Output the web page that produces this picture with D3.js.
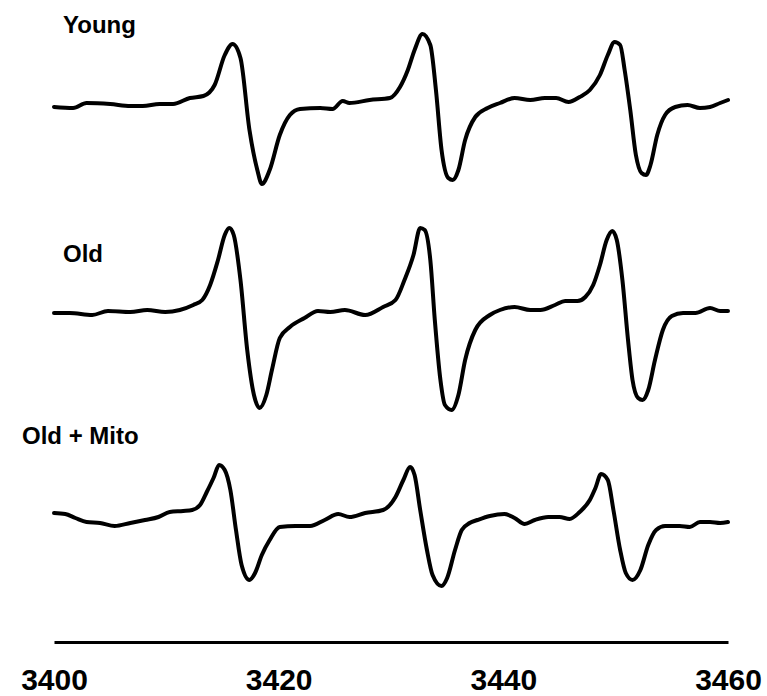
<!DOCTYPE html>
<meta charset="utf-8">
<script src="https://d3js.org/d3.v7.min.js"></script>
<style>
  body { margin: 0; background: #fff; }
</style>
<div id="my_dataviz"></div>
<script>

// magnetic field (G) and signal (a.u.)
var youngField = [3400.0,3401.7,3402.9,3405.0,3406.8,3407.9,3409.4,3410.6,3412.1,3413.3,3414.3,3415.2,3415.9,3416.6,3417.4,3418.1,3418.5,3419.2,3420.1,3421.0,3421.9,3423.7,3424.8,3425.7,3426.3,3428.1,3429.9,3430.8,3431.5,3432.1,3432.8,3433.5,3434.0,3434.5,3435.1,3435.5,3436.0,3436.6,3437.5,3438.6,3439.7,3441.0,3442.4,3443.7,3444.7,3445.8,3446.8,3447.7,3448.6,3449.3,3449.9,3450.4,3450.8,3451.3,3451.8,3452.3,3452.7,3453.1,3453.7,3454.4,3455.3,3456.4,3457.5,3458.4,3459.3,3460.0];
var youngSignal = [-2,-3,2,1,-1,-1,1,1,7,9,20,50,61,47,-25,-65,-79,-65,-30,-10,-4,-3,-4,4,2,5,7,18,35,55,71,60,15,-45,-73,-75,-65,-35,-12,-3,2,7,5,7,7,3,8,15,30,50,63,60,35,-5,-50,-68,-70,-60,-30,-10,-2,0,-3,-2,2,5];

var oldField = [3400.0,3401.4,3403.4,3404.8,3406.8,3408.3,3409.9,3411.2,3412.4,3413.2,3413.9,3414.6,3415.2,3415.6,3416.0,3416.6,3417.2,3417.8,3418.3,3418.9,3419.4,3420.1,3421.0,3422.3,3423.5,3424.6,3425.9,3427.7,3429.3,3430.4,3431.2,3432.0,3432.6,3433.0,3433.5,3433.9,3434.4,3434.8,3435.4,3436.0,3436.6,3437.5,3438.8,3439.7,3441.0,3442.4,3443.3,3444.6,3445.5,3446.6,3447.3,3448.0,3448.6,3449.2,3449.7,3450.1,3450.6,3451.1,3451.5,3452.0,3452.4,3452.9,3453.5,3454.2,3455.0,3456.0,3457.1,3458.4,3459.3,3460.0];
var oldSignal = [-1,-1,-3,1,0,2,0,2,7,12,27,52,77,84,77,32,-38,-83,-96,-83,-58,-26,-15,-6,1,0,2,-3,5,12,32,57,84,82,52,-8,-68,-93,-98,-83,-48,-18,-3,2,5,2,2,7,11,11,15,27,47,72,81,72,32,-28,-68,-86,-88,-78,-48,-18,-4,-1,-1,4,1,1];

var mitoField = [3400.0,3401.0,3401.9,3402.9,3404.1,3405.4,3406.8,3408.1,3409.3,3410.3,3411.5,3412.3,3413.0,3413.6,3414.2,3414.7,3415.2,3415.7,3416.2,3416.7,3417.4,3417.9,3418.5,3419.2,3420.1,3421.5,3422.8,3424.1,3425.3,3426.3,3427.7,3429.3,3430.4,3431.1,3431.7,3432.1,3432.6,3433.2,3433.7,3434.5,3435.0,3435.7,3436.3,3437.0,3437.7,3438.8,3440.1,3441.0,3441.9,3442.8,3444.0,3445.0,3445.9,3446.8,3447.7,3448.2,3448.7,3449.3,3449.8,3450.4,3450.9,3451.5,3452.2,3452.9,3453.6,3454.4,3455.7,3456.6,3457.5,3458.4,3459.3,3460.0];
var mitoSignal = [2,1,-3,-7,-8,-11,-8,-5,-2,3,4,5,10,23,37,50,45,25,-15,-50,-65,-58,-40,-25,-12,-11,-11,-5,1,-2,2,5,18,35,48,40,5,-35,-60,-71,-63,-35,-15,-8,-5,-1,1,-3,-9,-5,-2,-2,-4,3,15,27,41,35,5,-35,-58,-65,-55,-30,-15,-11,-11,-12,-7,-7,-8,-7];

var seriesNames = ["Young", "Old", "Old + Mito"];
var tickValues = [3400, 3420, 3440, 3460];

// layout
var width = 767, height = 696;
var baselines = [105, 312, 515];
var labelPos = [[63, 33], [63, 262], [22, 444]];
var axisY = 642;

var svg = d3.select("#my_dataviz")
  .append("svg")
    .attr("width", width)
    .attr("height", height);

var x = d3.scaleLinear()
  .domain([3400, 3460])
  .range([54, 728]);

// signal amplitude -> pixel offset from each trace's baseline
var y = d3.scaleLinear()
  .domain([-100, 100])
  .range([100, -100]);

var line = d3.line()
  .x(function(d) { return x(d[0]); })
  .y(function(d) { return y(d[1]); })
  .curve(d3.curveMonotoneX);

var traces = [
  d3.zip(youngField, youngSignal),
  d3.zip(oldField, oldSignal),
  d3.zip(mitoField, mitoSignal)
];

traces.forEach(function(data, i) {
  svg.append("g")
      .attr("transform", "translate(0," + baselines[i] + ")")
    .append("path")
      .datum(data)
      .attr("fill", "none")
      .attr("stroke", "#000")
      .attr("stroke-width", 4)
      .attr("stroke-linejoin", "round")
      .attr("stroke-linecap", "round")
      .attr("d", line);

  svg.append("text")
      .attr("x", labelPos[i][0])
      .attr("y", labelPos[i][1])
      .style("font-family", "Liberation Sans, Arial, sans-serif")
      .style("font-weight", "bold")
      .style("font-size", "24px")
      .text(seriesNames[i]);
});

// x axis
var xAxis = svg.append("g")
    .attr("transform", "translate(0," + axisY + ")")
    .call(d3.axisBottom(x)
      .tickValues(tickValues)
      .tickFormat(d3.format("d"))
      .tickSize(0)
      .tickPadding(27));

xAxis.select(".domain")
    .attr("stroke", "#000")
    .attr("stroke-width", 3);

xAxis.selectAll("text")
    .style("font-family", "Liberation Sans, Arial, sans-serif")
    .style("font-weight", "bold")
    .style("font-size", "30px")
    .attr("fill", "#000");

</script>
